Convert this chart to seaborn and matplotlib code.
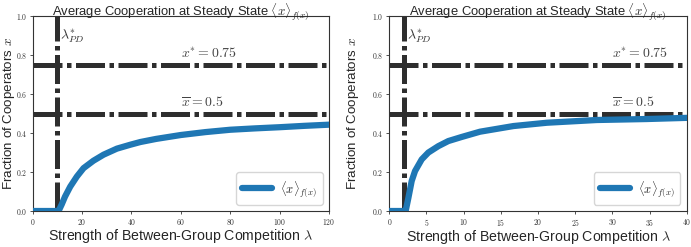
import matplotlib
matplotlib.use("Agg")
import matplotlib.pyplot as plt
import seaborn as sns
import pandas as pd
from matplotlib.ticker import FuncFormatter, MultipleLocator

# ---- data ----
left_lambda = [0, 10, 10.5, 11.8, 13.1, 15.2, 17.9, 20.6, 24.6, 28.7, 34.1, 39.5,
               43.6, 50, 60, 70, 80, 90, 100, 110, 120]
left_x = [0, 0, 0, 0.035, 0.074, 0.125, 0.177, 0.22, 0.258, 0.289, 0.32, 0.34,
          0.354, 0.37, 0.39, 0.405, 0.417, 0.424, 0.43, 0.437, 0.443]
right_lambda = [0, 2, 2.2, 2.57, 3.01, 3.46, 4.36, 5.25, 6.6, 7.94, 9.74, 12.2,
                16.7, 21.2, 27.9, 34.6, 40]
right_x = [0, 0, 0, 0.068, 0.154, 0.205, 0.265, 0.30, 0.333, 0.359, 0.38, 0.407,
           0.436, 0.453, 0.467, 0.472, 0.478]
lambda_pd = [10, 2]
x_star = 0.75
x_bar = 0.5
xlims = [120, 40]
xticks_step = [20, 5]
label_x = [60, 30]

title = r"Average Cooperation at Steady State $\langle x\rangle_{f(x)}$"
xlabel = r"Strength of Between-Group Competition $\lambda$"
ylabel = r"Fraction of Cooperators $x$"
legend_label = r"$\langle x\rangle_{f(x)}$"

sns.set_theme(style="white")
plt.rcParams["font.family"] = ["Liberation Sans", "DejaVu Sans"]
plt.rcParams["mathtext.fontset"] = "cm"

fig = plt.figure(figsize=(6.91, 2.47), dpi=100)
axes = [fig.add_axes([0.0473, 0.1457, 0.4288, 0.789]),
        fig.add_axes([0.5634, 0.1457, 0.4304, 0.789])]
ylabel_x = [-0.053, -0.095]

datasets = [(left_lambda, left_x), (right_lambda, right_x)]
dash_color = "#2e2e2e"
dashes = (5.8, 0.9, 0.9, 0.9)

for i, ax in enumerate(axes):
    lam, xs = datasets[i]
    df = pd.DataFrame({"lam": lam, "x": xs})
    ax.axhline(x_star, color=dash_color, lw=3.6, dashes=dashes, zorder=2)
    ax.axhline(x_bar, color=dash_color, lw=3.6, dashes=dashes, zorder=2)
    ax.axvline(lambda_pd[i], color=dash_color, lw=3.6, dashes=dashes, zorder=2)
    sns.lineplot(data=df, x="lam", y="x", ax=ax, color="#1f77b4", lw=4.5,
                 label=legend_label, zorder=3, sort=False)
    ax.set_xlim(0, xlims[i])
    ax.set_ylim(0, 1)
    ax.xaxis.set_major_locator(MultipleLocator(xticks_step[i]))
    ax.yaxis.set_major_locator(MultipleLocator(0.2))
    ax.xaxis.set_major_formatter(FuncFormatter(lambda v, p: f"${int(round(v))}$"))
    ax.yaxis.set_major_formatter(FuncFormatter(lambda v, p: f"${v:.1f}$"))
    ax.tick_params(axis="both", which="major", bottom=True, left=True,
                   length=2, width=0.6, labelsize=5.5, pad=2, colors="#333333")
    for s in ax.spines.values():
        s.set_color("#333333")
        s.set_linewidth(0.8)
    ax.set_title(title, fontsize=9.4, pad=0.5)
    ax.set_xlabel(xlabel, fontsize=10.2, labelpad=0.5)
    ax.set_ylabel(ylabel, fontsize=9.6)
    ax.yaxis.set_label_coords(ylabel_x[i], 0.5)
    ax.text(label_x[i], x_star + 0.035, r"$x^{*}=0.75$", ha="left", va="baseline",
            fontsize=10, color="#444444")
    ax.text(label_x[i], x_bar + 0.035, r"$\overline{x}=0.5$", ha="left", va="baseline",
            fontsize=10, color="#444444")
    ax.text(lambda_pd[i] + xlims[i] * 0.01, 0.945, r"$\lambda^{*}_{PD}$", ha="left",
            va="top", fontsize=10, color="#333333")
    leg = ax.legend(loc="lower right", fontsize=9, handlelength=2.4,
                    frameon=True, borderpad=0.5, handletextpad=0.6)
    leg.get_frame().set_edgecolor("#cccccc")

fig.savefig("out.png", dpi=100)
